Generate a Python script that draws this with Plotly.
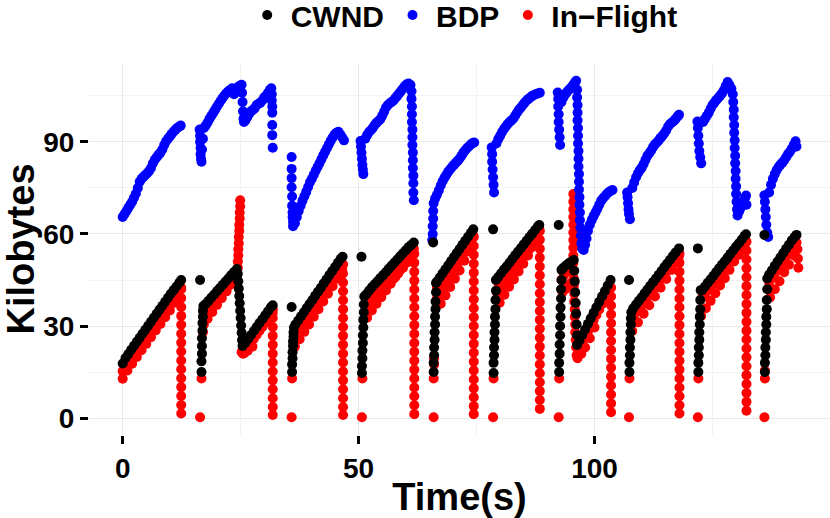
import plotly.graph_objects as go

# CWND (kilobytes) sampled over time (s)
cwnd_t = [
    0.0, 0.6, 1.2, 1.8, 2.4, 3.0, 3.6, 4.2, 4.8, 5.4, 6.0, 6.6, 7.2, 7.8, 8.4, 9.0, 9.6, 10.2, 10.8, 11.4, 12.0, 12.4,
    16.4, 16.7, 16.7, 16.8, 16.8, 16.8, 16.9, 16.9, 17.0, 17.0, 17.1,
    17.6, 18.2, 18.8, 19.4, 20.0, 20.6, 21.2, 21.8, 22.4, 23.0, 23.6, 24.2,
    24.4, 24.5, 24.6, 24.7, 24.8, 24.9, 25.0, 25.1, 25.2, 25.3, 25.4,
    26.0, 26.6, 27.2, 27.8, 28.4, 29.0, 29.6, 30.2, 30.8, 31.4, 31.8,
    35.8, 35.9, 35.9, 36.0, 36.0, 36.1, 36.1, 36.2, 36.2, 36.3,
    36.6, 37.2, 37.8, 38.4, 39.0, 39.6, 40.2, 40.8, 41.4, 42.0, 42.6, 43.2, 43.8, 44.4, 45.0, 45.6, 46.2, 46.6,
    50.6, 50.7, 50.7, 50.8, 50.8, 50.9, 50.9, 51.0, 51.0, 51.1, 51.1, 51.2,
    51.6, 52.2, 52.8, 53.4, 54.0, 54.6, 55.2, 55.8, 56.4, 57.0, 57.6, 58.2, 58.8, 59.4, 60.0, 60.6, 61.2, 61.7,
    65.8, 65.9, 65.9, 66.0, 66.0, 66.1, 66.1, 66.2, 66.2, 66.3, 66.3, 66.4, 66.4,
    66.6, 67.2, 67.8, 68.4, 69.0, 69.6, 70.2, 70.8, 71.4, 72.0, 72.6, 73.2, 73.8, 74.3,
    78.5, 78.6, 78.6, 78.7, 78.7, 78.8, 78.8, 78.9, 78.9, 79.0, 79.0, 79.1, 79.1,
    79.6, 80.2, 80.8, 81.4, 82.0, 82.6, 83.2, 83.8, 84.4, 85.0, 85.6, 86.2, 86.8, 87.4, 88.0, 88.3,
    92.4, 92.5, 92.5, 92.6, 92.6, 92.7, 92.7, 92.8, 92.8, 92.9, 92.9, 93.0, 93.0,
    93.4, 94.0, 94.6, 95.2, 95.6, 95.7, 95.8, 95.9, 96.0, 96.1, 96.2, 96.3, 96.3,
    96.8, 97.4, 98.0, 98.6, 99.2, 99.8, 100.4, 101.0, 101.6, 102.2, 102.8, 103.4,
    107.3, 107.4, 107.4, 107.5, 107.5, 107.6, 107.6, 107.7, 107.7, 107.8,
    108.2, 108.8, 109.4, 110.0, 110.6, 111.2, 111.8, 112.4, 113.0, 113.6, 114.2, 114.8, 115.4, 116.0, 116.6, 117.2, 117.9,
    121.9, 122.0, 122.0, 122.1, 122.1, 122.2, 122.2, 122.3, 122.3, 122.4, 122.4, 122.5,
    122.8, 123.4, 124.0, 124.6, 125.2, 125.8, 126.4, 127.0, 127.6, 128.2, 128.8, 129.4, 130.0, 130.6, 131.2, 131.8, 132.1,
    136.0, 136.1, 136.1, 136.2, 136.2, 136.3, 136.3, 136.4, 136.4, 136.5, 136.5, 136.6, 136.6,
    137.0, 137.6, 138.2, 138.8, 139.4, 140.0, 140.6, 141.2, 141.8, 142.4, 142.8,
]
cwnd_kb = [
    17.8, 19.6, 20.9, 22.3, 23.6, 24.9, 26.2, 27.5, 28.8, 30.1, 31.4, 32.7, 34.0, 35.3, 36.6, 37.9, 39.2, 40.5, 41.7, 42.9, 44.1, 45.0,
    45.0, 15.0, 18.5, 21.0, 23.5, 26.0, 28.5, 31.0, 33.0, 35.0, 36.5,
    37.2, 38.2, 39.3, 40.3, 41.4, 42.4, 43.4, 44.5, 45.5, 46.6, 47.6, 48.6,
    47.0, 44.6, 42.2, 39.8, 37.4, 35.0, 32.6, 30.2, 27.8, 25.4, 23.5,
    24.6, 25.8, 27.1, 28.4, 29.7, 31.0, 32.2, 33.5, 34.8, 36.1, 36.8,
    36.2, 15.0, 17.5, 19.5, 21.5, 23.5, 25.0, 26.5, 28.0, 29.5,
    30.5, 31.8, 33.2, 34.5, 35.9, 37.2, 38.5, 39.9, 41.2, 42.5, 43.9, 45.2, 46.6, 47.9, 49.2, 50.6, 51.9, 52.6,
    52.6, 14.7, 17.0, 19.5, 22.0, 24.5, 27.0, 29.5, 32.0, 34.5, 37.0, 39.6,
    40.3, 41.5, 42.6, 43.6, 44.6, 45.6, 46.6, 47.6, 48.7, 49.7, 50.7, 51.7, 52.7, 53.7, 54.7, 55.7, 56.5, 57.2,
    57.2, 15.0, 18.0, 20.5, 23.0, 25.5, 28.0, 30.5, 33.0, 35.5, 38.0, 41.0, 44.0,
    44.5, 45.8, 47.2, 48.5, 49.8, 51.2, 52.5, 53.8, 55.1, 56.5, 57.8, 59.1, 60.4, 61.5,
    61.5, 14.7, 18.0, 20.5, 23.0, 25.5, 28.0, 30.5, 33.0, 35.5, 38.5, 41.5, 45.0,
    46.0, 47.2, 48.4, 49.5, 50.7, 51.9, 53.1, 54.3, 55.4, 56.6, 57.8, 59.0, 60.1, 61.3, 62.5, 62.9,
    62.9, 15.0, 18.0, 21.0, 24.0, 27.0, 30.0, 33.0, 36.0, 39.0, 42.0, 45.0, 48.3,
    49.0, 49.8, 50.5, 51.1, 51.5, 48.0, 44.5, 41.0, 37.5, 34.0, 30.5, 27.0, 23.8,
    25.3, 27.1, 28.9, 30.7, 32.5, 34.3, 36.1, 37.9, 39.7, 41.4, 43.2, 45.0,
    45.0, 15.0, 18.0, 20.5, 23.0, 25.5, 28.0, 30.5, 32.5, 34.5,
    35.8, 37.0, 38.2, 39.4, 40.7, 41.9, 43.1, 44.3, 45.5, 46.7, 47.9, 49.2, 50.4, 51.6, 52.8, 54.0, 55.3,
    55.3, 15.0, 18.0, 20.5, 23.0, 25.5, 28.0, 30.5, 33.0, 35.5, 38.5, 41.7,
    41.7, 42.9, 44.1, 45.2, 46.4, 47.6, 48.8, 50.0, 51.1, 52.3, 53.5, 54.7, 55.9, 57.0, 58.2, 59.4, 59.9,
    59.7, 15.0, 18.0, 20.5, 23.0, 25.5, 28.0, 30.5, 33.0, 35.5, 38.5, 42.0, 45.5,
    46.8, 48.2, 49.6, 51.0, 52.4, 53.8, 55.2, 56.5, 57.9, 59.0, 59.7,
]

# BDP (kilobytes)
bdp_t = [
    0.0, 0.4, 0.8, 1.2, 1.6, 2.0, 2.4, 2.8, 3.2, 3.6, 4.0, 4.4, 4.8, 5.2, 5.6, 6.0, 6.4, 6.8, 7.2, 7.6, 8.0, 8.4, 8.8, 9.2, 9.6, 10.0, 10.4, 10.8, 11.2, 11.6, 12.0, 12.3,
    16.3, 16.4, 16.4, 16.5, 16.5, 16.6, 16.7,
    16.8, 17.0, 17.2, 17.6, 18.0, 18.4, 18.8, 19.2, 19.6, 20.0, 20.4, 20.8, 21.2, 21.6, 22.0, 22.4, 22.8, 23.2, 23.6, 24.0, 24.4, 24.8, 25.2,
    25.3, 25.4, 25.5, 25.6, 25.7,
    26.0, 26.4, 26.8, 27.2, 27.6, 28.0, 28.4, 28.8, 29.2, 29.6, 30.0, 30.4, 30.8, 31.2, 31.5,
    31.6, 31.6, 31.7, 31.7, 31.7, 31.7, 31.8,
    35.8, 35.8, 35.8, 35.8, 35.9, 35.9, 36.0, 36.0, 36.1, 36.1,
    36.5, 36.9, 37.3, 37.7, 38.1, 38.5, 38.9, 39.3, 39.7, 40.1, 40.5, 40.9, 41.3, 41.7, 42.1, 42.5, 42.9, 43.3, 43.7, 44.1, 44.5, 44.9, 45.3, 45.7, 46.1, 46.5, 46.9,
    50.4, 50.5, 50.6, 50.7, 50.8, 50.9, 51.0,
    51.4, 51.8, 52.2, 52.6, 53.0, 53.4, 53.8, 54.2, 54.6, 55.0, 55.4, 55.8, 56.2, 56.6, 57.0, 57.4, 57.8, 58.2, 58.6, 59.0, 59.4, 59.8, 60.2, 60.6, 61.0,
    61.2, 61.2, 61.3, 61.3, 61.3, 61.4, 61.4, 61.4, 61.5, 61.5, 61.5, 61.6, 61.6, 61.6, 61.7,
    65.6, 65.7, 65.7, 65.8, 65.8, 65.9,
    66.2, 66.6, 67.0, 67.4, 67.8, 68.2, 68.6, 69.0, 69.4, 69.8, 70.2, 70.6, 71.0, 71.4, 71.8, 72.2, 72.6, 73.0, 73.4, 73.8, 74.2, 74.5,
    78.2, 78.3, 78.3, 78.4, 78.5, 78.6, 78.7,
    79.2, 79.6, 80.0, 80.4, 80.8, 81.2, 81.6, 82.0, 82.4, 82.8, 83.2, 83.6, 84.0, 84.4, 84.8, 85.2, 85.6, 86.0, 86.4, 86.8, 87.2, 87.6, 88.0, 88.4,
    92.2, 92.3, 92.3, 92.4, 92.4, 92.5, 92.6, 92.7,
    93.0, 93.4, 93.8, 94.2, 94.6, 95.0, 95.4, 95.8, 96.1,
    96.3, 96.3, 96.4, 96.4, 96.4, 96.5, 96.5, 96.5, 96.6, 96.6, 96.6, 96.7, 96.7, 96.7, 96.8, 96.8, 96.9, 96.9, 97.0, 97.1, 97.2, 97.4, 97.7,
    98.0, 98.3, 98.6, 99.0, 99.4, 99.8, 100.2, 100.6, 101.0, 101.4, 101.8, 102.2, 102.6, 103.0, 103.4, 103.8,
    106.9, 107.0, 107.1, 107.2, 107.3, 107.5,
    108.0, 108.4, 108.8, 109.2, 109.6, 110.0, 110.4, 110.8, 111.2, 111.6, 112.0, 112.4, 112.8, 113.2, 113.6, 114.0, 114.4, 114.8, 115.2, 115.6, 116.0, 116.4, 116.8, 117.2, 117.6, 117.9,
    121.8, 121.9, 122.0, 122.1, 122.2, 122.4, 122.6,
    123.0, 123.4, 123.8, 124.2, 124.6, 125.0, 125.4, 125.8, 126.2, 126.6, 127.0, 127.4, 127.8, 128.2, 128.6, 129.0,
    129.3, 129.4, 129.5, 129.5, 129.6, 129.6, 129.7, 129.7, 129.8, 129.8, 129.9, 129.9, 130.0, 130.0, 130.1, 130.2, 130.3,
    130.7, 131.1, 131.5, 131.9, 132.1, 132.2,
    136.0, 136.1, 136.2, 136.3, 136.4, 136.6, 136.8,
    137.0, 137.4, 137.8, 138.2, 138.6, 139.0, 139.4, 139.8, 140.2, 140.6, 141.0, 141.4, 141.8, 142.2, 142.6, 142.8,
]
bdp_kb = [
    65.5, 66.5, 67.5, 68.5, 69.5, 70.5, 71.8, 73.2, 75.0, 77.0, 78.0, 78.6, 79.2, 79.8, 80.5, 81.5, 83.0, 84.2, 85.0, 85.8, 86.5, 87.5, 89.0, 90.2, 91.0, 91.8, 92.6, 93.4, 94.0, 94.6, 95.0, 95.3,
    94.0, 92.0, 90.0, 88.0, 86.0, 84.5, 83.5,
    87.5, 91.0, 94.5, 95.3, 96.3, 97.5, 98.5, 99.5, 100.5, 101.5, 102.5, 103.5, 104.4, 105.2, 105.9, 106.5, 107.0, 107.5, 105.5, 106.8, 107.8, 108.3, 108.6,
    106.0, 103.0, 100.0, 97.5, 96.5,
    97.0, 98.0, 99.2, 100.0, 100.4, 101.0, 102.0, 102.4, 102.8, 103.5, 104.5, 105.0, 106.0, 107.0, 107.5,
    105.5, 103.5, 101.5, 99.5, 95.5, 92.2, 88.1,
    85.1, 81.2, 78.2, 75.2, 72.2, 69.2, 67.0, 65.5, 64.0, 62.5,
    63.5, 65.5, 67.5, 69.2, 70.8, 72.3, 73.7, 75.3, 76.9, 78.0, 79.3, 80.6, 81.8, 83.0, 84.3, 85.6, 86.8, 88.0, 89.2, 90.4, 91.4, 92.4, 93.0, 93.3, 92.5, 91.5, 90.5,
    90.3, 88.5, 86.5, 84.5, 82.5, 81.0, 79.5,
    91.0, 92.2, 93.2, 93.8, 94.5, 95.5, 96.2, 96.8, 97.4, 98.5, 99.8, 101.2, 102.0, 102.6, 103.0, 103.5, 104.3, 105.0, 105.8, 106.6, 107.4, 108.2, 108.8, 109.0, 108.5,
    106.5, 104.0, 101.5, 99.0, 96.5, 94.0, 91.5, 89.0, 86.5, 84.0, 81.5, 79.0, 76.5, 73.5, 71.0,
    58.0, 60.0, 62.5, 65.0, 67.5, 70.0,
    71.5, 72.8, 74.2, 75.8, 77.2, 78.3, 79.3, 80.3, 81.1, 81.8, 82.5, 83.2, 83.8, 84.6, 85.5, 86.5, 87.3, 88.0, 88.6, 89.2, 89.6, 89.8,
    88.2, 86.0, 83.5, 81.0, 78.5, 76.0, 73.5,
    89.5, 90.9, 92.0, 93.2, 94.2, 95.0, 95.8, 96.5, 97.0, 97.6, 98.6, 99.6, 100.5, 101.2, 102.0, 102.8, 103.5, 104.0, 104.5, 105.0, 105.3, 105.6, 105.8, 106.0,
    106.1, 104.0, 101.5, 99.0, 96.5, 94.0, 91.5, 89.0,
    103.0, 104.5, 105.5, 106.3, 107.0, 107.6, 108.4, 109.3, 109.9,
    107.0, 104.5, 102.0, 99.5, 97.0, 94.5, 92.0, 89.5, 87.0, 84.5, 82.0, 79.5, 77.0, 74.5, 72.0, 69.5, 67.0, 64.5, 62.0, 59.5, 57.0, 55.2, 54.8,
    56.5, 58.5, 61.0, 63.0, 64.5, 65.8, 67.0, 68.2, 69.5, 70.8, 71.6, 72.3, 73.0, 73.6, 74.0, 74.3,
    73.5, 72.0, 70.0, 68.0, 66.5, 64.8,
    75.0, 76.8, 78.5, 79.8, 80.8, 81.6, 82.8, 84.2, 85.5, 86.3, 87.2, 88.3, 89.2, 89.8, 90.5, 91.3, 92.0, 92.8, 93.8, 95.0, 95.8, 96.3, 96.8, 97.5, 98.3, 98.8,
    96.6, 94.5, 92.0, 89.5, 87.0, 85.0, 83.0,
    96.5, 97.5, 98.5, 99.5, 100.8, 102.0, 102.8, 103.6, 104.3, 105.0, 105.8, 106.8, 108.2, 109.5, 108.5, 107.3,
    105.5, 103.0, 100.5, 98.0, 95.5, 93.0, 90.5, 88.0, 85.5, 83.0, 80.5, 78.0, 75.5, 73.0, 70.5, 68.0, 66.0,
    67.5, 68.8, 70.3, 71.8, 72.5, 69.5,
    72.6, 70.5, 68.0, 65.5, 63.0, 60.5, 59.0,
    73.5, 76.0, 78.0, 79.5, 80.8, 81.8, 82.6, 83.2, 84.0, 85.0, 86.0, 86.8, 87.8, 89.0, 90.2, 88.5,
]

# In-Flight (kilobytes)
inflight_t = [
    0.0, 0.6, 1.2, 1.8, 2.4, 3.0, 3.6, 4.2, 4.8, 5.4, 6.0, 6.6, 7.2, 7.8, 8.4, 9.0, 9.6, 10.2, 10.8, 11.4, 12.0, 12.4,
    0.0, 1.0, 2.0, 3.0, 4.0, 5.0, 6.0, 7.0, 8.0, 9.0, 10.0, 11.0,
    12.4, 12.4, 12.4, 12.4, 12.4, 12.4, 12.4, 12.4, 12.4, 12.4, 12.4, 12.4, 12.4, 12.4, 12.4,
    16.4, 16.7, 17.0, 17.1,
    17.6, 18.2, 18.8, 19.4, 20.0, 20.6, 21.2, 21.8, 22.4, 23.0, 23.6, 24.2,
    17.2, 18.0, 19.0, 20.0, 21.0, 22.0, 23.0, 24.0,
    24.4, 24.4, 24.5, 24.5, 24.6, 24.6, 24.7, 24.7, 24.8, 24.8, 24.9, 24.9,
    25.2, 25.5, 25.8,
    26.0, 26.6, 27.2, 27.8, 28.4, 29.0, 29.6, 30.2, 30.8, 31.4, 31.8,
    26.5, 27.5,
    31.8, 31.8, 31.8, 31.8, 31.8, 31.8, 31.8, 31.8, 31.8, 31.8, 31.8, 31.8, 31.8,
    35.8, 35.9,
    36.6, 37.2, 37.8, 38.4, 39.0, 39.6, 40.2, 40.8, 41.4, 42.0, 42.6, 43.2, 43.8, 44.4, 45.0, 45.6, 46.2, 46.6,
    36.5, 37.5, 38.5, 39.5, 40.5, 41.5, 42.5, 43.5, 44.5, 45.5, 46.5,
    46.7, 46.7, 46.7, 46.7, 46.7, 46.7, 46.7, 46.7, 46.7, 46.7, 46.7, 46.7, 46.7, 46.7, 46.7, 46.7, 46.7, 46.7,
    50.7, 50.8,
    51.6, 52.2, 52.8, 53.4, 54.0, 54.6, 55.2, 55.8, 56.4, 57.0, 57.6, 58.2, 58.8, 59.4, 60.0, 60.6, 61.2, 61.7,
    51.4, 52.4, 53.4, 54.4, 55.4, 56.4, 57.4, 58.4, 59.4, 60.4, 61.4,
    51.8, 52.8, 53.8, 54.8, 55.8, 56.8, 57.8, 58.8, 59.8, 60.8,
    61.8, 61.8, 61.8, 61.8, 61.8, 61.8, 61.8, 61.8, 61.8, 61.8, 61.8, 61.8, 61.8, 61.8, 61.8, 61.8, 61.8, 61.8, 61.8,
    65.9, 65.9, 66.0, 66.0, 66.6,
    66.6, 67.2, 67.8, 68.4, 69.0, 69.6, 70.2, 70.8, 71.4, 72.0, 72.6, 73.2, 73.8, 74.3,
    66.9, 67.9, 68.9, 69.9, 70.9, 71.9, 72.9, 73.9,
    67.4, 68.4, 69.4, 70.4, 71.4, 72.4, 73.4,
    74.4, 74.4, 74.4, 74.4, 74.4, 74.4, 74.4, 74.4, 74.4, 74.4, 74.4, 74.4, 74.4, 74.4, 74.4, 74.4, 74.4, 74.4, 74.4, 74.4, 74.4,
    78.5, 78.6,
    79.6, 80.2, 80.8, 81.4, 82.0, 82.6, 83.2, 83.8, 84.4, 85.0, 85.6, 86.2, 86.8, 87.4, 88.0, 88.3,
    79.4, 80.4, 81.4, 82.4, 83.4, 84.4, 85.4, 86.4, 87.4,
    79.9, 80.9, 81.9, 82.9, 83.9, 84.9, 85.9, 86.9,
    88.4, 88.4, 88.4, 88.4, 88.4, 88.4, 88.4, 88.4, 88.4, 88.4, 88.4, 88.4, 88.4, 88.4, 88.4, 88.4, 88.4, 88.4, 88.4, 88.4, 88.4,
    92.4, 92.5,
    93.0, 93.5, 94.0, 94.5, 95.0,
    93.2, 93.8, 94.4, 95.0,
    95.5, 95.5, 95.5, 95.5, 95.5, 95.5, 95.5, 95.5, 95.5,
    95.5, 95.5, 95.6, 95.6, 95.7, 95.7, 95.8, 95.8, 95.9, 95.9, 96.0, 96.1, 96.2,
    96.8, 97.4, 98.0, 98.6, 99.2, 99.8, 100.4, 101.0, 101.6, 102.2, 102.8, 103.4,
    96.4, 97.2, 98.0, 99.0, 100.0,
    103.5, 103.5, 103.5, 103.5, 103.5, 103.5, 103.5, 103.5, 103.5, 103.5, 103.5, 103.5, 103.5, 103.5, 103.5,
    107.3, 107.4,
    108.2, 108.8, 109.4, 110.0, 110.6, 111.2, 111.8, 112.4, 113.0, 113.6, 114.2, 114.8, 115.4, 116.0, 116.6, 117.2, 117.9,
    108.0, 109.2, 110.4, 111.6, 112.8, 114.0, 115.2, 116.4, 117.6,
    118.0, 118.0, 118.0, 118.0, 118.0, 118.0, 118.0, 118.0, 118.0, 118.0, 118.0, 118.0, 118.0, 118.0, 118.0, 118.0, 118.0, 118.0, 118.0,
    121.9, 122.0,
    122.8, 123.4, 124.0, 124.6, 125.2, 125.8, 126.4, 127.0, 127.6, 128.2, 128.8, 129.4, 130.0, 130.6, 131.2, 131.8, 132.1,
    122.6, 123.6, 124.6, 125.6, 126.6, 127.6, 128.6, 129.6, 130.6, 131.6,
    132.2, 132.2, 132.2, 132.2, 132.2, 132.2, 132.2, 132.2, 132.2, 132.2, 132.2, 132.2, 132.2, 132.2, 132.2, 132.2, 132.2, 132.2, 132.2, 132.2,
    136.0, 136.1, 136.1,
    137.0, 137.6, 138.2, 138.8, 139.4, 140.0, 140.6, 141.2, 141.8, 142.4, 142.8,
    137.2, 138.2, 139.2, 140.2, 141.2, 142.2,
    143.0, 143.1, 143.2,
]
inflight_kb = [
    15.3, 17.1, 18.4, 19.8, 21.1, 22.4, 23.7, 25.0, 26.3, 27.6, 28.9, 30.2, 31.5, 32.8, 34.1, 35.4, 36.7, 38.0, 39.2, 40.4, 41.6, 42.5,
    12.8, 15.5, 17.7, 19.9, 22.1, 24.2, 26.4, 28.6, 30.7, 32.9, 35.1, 37.6,
    42.0, 39.1, 36.2, 33.3, 30.4, 27.5, 24.6, 21.7, 18.8, 15.9, 13.0, 10.1, 7.2, 4.3, 1.5,
    0.3, 12.9, 28.0, 31.0,
    34.7, 35.7, 36.8, 37.8, 38.9, 39.9, 40.9, 42.0, 43.0, 44.1, 45.1, 46.1,
    30.5, 32.4, 34.6, 36.9, 39.1, 41.3, 43.6, 45.3,
    49.0, 51.0, 53.0, 55.0, 57.0, 59.0, 61.0, 63.0, 65.0, 67.0, 69.0, 71.0,
    21.5, 21.0, 21.2,
    22.1, 23.3, 24.6, 25.9, 27.2, 28.5, 29.7, 31.0, 32.3, 33.6, 34.3,
    22.0, 23.3,
    35.5, 32.6, 29.7, 26.8, 23.9, 21.0, 18.1, 15.2, 12.3, 9.4, 6.5, 3.6, 1.0,
    0.3, 12.9,
    28.0, 29.3, 30.7, 32.0, 33.4, 34.7, 36.0, 37.4, 38.7, 40.0, 41.4, 42.7, 44.1, 45.4, 46.7, 48.1, 49.4, 50.1,
    23.3, 25.7, 28.1, 30.5, 33.0, 35.5, 38.0, 40.5, 43.0, 45.5, 48.5,
    50.0, 47.1, 44.2, 41.3, 38.4, 35.5, 32.6, 29.7, 26.8, 23.9, 21.0, 18.1, 15.2, 12.3, 9.4, 6.5, 3.6, 1.0,
    0.3, 12.9,
    38.3, 39.5, 40.6, 41.6, 42.6, 43.6, 44.6, 45.6, 46.7, 47.7, 48.7, 49.7, 50.7, 51.7, 52.7, 53.7, 54.5, 55.2,
    34.4, 36.4, 38.2, 40.0, 41.7, 43.6, 45.4, 47.1, 48.9, 50.8, 53.3,
    32.7, 35.1, 37.3, 39.4, 41.6, 43.8, 46.0, 48.2, 50.3, 52.0,
    53.5, 50.6, 47.7, 44.8, 41.9, 39.0, 36.1, 33.2, 30.3, 27.4, 24.5, 21.6, 18.7, 15.8, 12.9, 10.0, 7.1, 4.2, 1.3,
    0.3, 12.9, 17.5, 19.5, 39.0,
    42.5, 43.8, 45.2, 46.5, 47.8, 49.2, 50.5, 51.8, 53.1, 54.5, 55.8, 57.1, 58.4, 59.5,
    40.2, 42.5, 44.8, 47.1, 49.4, 51.8, 54.2, 57.1,
    37.3, 40.0, 42.7, 45.4, 48.1, 51.3, 55.0,
    59.0, 56.1, 53.2, 50.3, 47.4, 44.5, 41.6, 38.7, 35.8, 32.9, 30.0, 27.1, 24.2, 21.3, 18.4, 15.5, 12.6, 9.7, 6.8, 3.9, 1.3,
    0.3, 12.9,
    44.0, 45.2, 46.4, 47.5, 48.7, 49.9, 51.1, 52.3, 53.4, 54.6, 55.8, 57.0, 58.1, 59.3, 60.5, 60.9,
    40.6, 42.7, 44.8, 46.8, 48.9, 51.0, 53.1, 55.3, 57.8,
    37.6, 40.2, 42.8, 45.2, 47.8, 50.3, 53.0, 55.9,
    61.0, 58.1, 55.2, 52.3, 49.4, 46.5, 43.6, 40.7, 37.8, 34.9, 32.0, 29.1, 26.2, 23.3, 20.4, 17.5, 14.6, 11.7, 8.8, 5.9, 3.0,
    0.3, 12.9,
    45.0, 46.5, 47.5, 48.0, 48.5,
    41.0, 42.0, 43.0, 44.0,
    73.0, 70.5, 68.0, 65.5, 63.0, 60.5, 58.0, 55.5, 53.0,
    50.5, 48.0, 45.5, 43.0, 40.5, 38.0, 35.5, 33.0, 30.5, 28.0, 25.5, 23.0, 20.5,
    22.8, 24.6, 26.4, 28.2, 30.0, 31.8, 33.6, 35.4, 37.2, 38.9, 40.7, 42.5,
    19.5, 21.0, 23.0, 26.0, 29.5,
    42.5, 39.6, 36.7, 33.8, 30.9, 28.0, 25.1, 22.2, 19.3, 16.4, 13.5, 10.6, 7.7, 4.8, 1.9,
    0.3, 12.9,
    33.3, 34.5, 35.7, 36.9, 38.2, 39.4, 40.6, 41.8, 43.0, 44.2, 45.4, 46.7, 47.9, 49.1, 50.3, 51.5, 52.8,
    28.4, 31.2, 34.0, 36.8, 39.6, 42.5, 45.3, 48.3, 51.1,
    53.5, 50.6, 47.7, 44.8, 41.9, 39.0, 36.1, 33.2, 30.3, 27.4, 24.5, 21.6, 18.7, 15.8, 12.9, 10.0, 7.1, 4.2, 1.5,
    0.3, 12.9,
    39.2, 40.4, 41.6, 42.7, 43.9, 45.1, 46.3, 47.5, 48.6, 49.8, 51.0, 52.2, 53.4, 54.5, 55.7, 56.9, 57.4,
    33.3, 35.8, 38.2, 40.7, 43.2, 45.6, 48.3, 51.0, 53.2, 55.5,
    57.5, 54.6, 51.7, 48.8, 45.9, 43.0, 40.1, 37.2, 34.3, 31.4, 28.5, 25.6, 22.7, 19.8, 16.9, 14.0, 11.1, 8.2, 5.3, 2.4,
    0.3, 12.9, 15.5,
    44.3, 45.7, 47.1, 48.5, 49.9, 51.3, 52.7, 54.0, 55.4, 56.5, 57.2,
    39.3, 42.0, 44.6, 47.5, 50.0, 53.0,
    55.0, 52.0, 49.0,
]

for name, xs, ys in [("cwnd", cwnd_t, cwnd_kb), ("bdp", bdp_t, bdp_kb), ("inflight", inflight_t, inflight_kb)]:
    if len(xs) != len(ys):
        raise ValueError(f"{name}: {len(xs)} times vs {len(ys)} values")

FONT = "Liberation Sans, Arial, Helvetica, sans-serif"
DOT = 10

fig = go.Figure()
# drawn bottom to top: In-Flight, BDP, CWND
fig.add_trace(go.Scatter(x=inflight_t, y=inflight_kb, mode="markers", name="In\u2212Flight",
                         marker=dict(color="#ff0000", size=DOT, line=dict(width=0))))
fig.add_trace(go.Scatter(x=bdp_t, y=bdp_kb, mode="markers", name="BDP",
                         marker=dict(color="#0000ff", size=DOT, line=dict(width=0))))
fig.add_trace(go.Scatter(x=cwnd_t, y=cwnd_kb, mode="markers", name="CWND",
                         marker=dict(color="#000000", size=DOT, line=dict(width=0))))

axis_style = dict(
    showgrid=True, gridcolor="#e8e8e8", gridwidth=1.2,
    zeroline=False, showline=False, automargin=False,
    ticks="outside", ticklen=8, tickwidth=2.5, tickcolor="#000000",
    tickfont=dict(family=FONT, size=28, color="#000000", weight="bold"),
)

fig.update_xaxes(
    range=[-7.14, 149.9], tickvals=[0, 50, 100],
    minor=dict(tickvals=[25, 75, 125], showgrid=True, gridcolor="#f3f3f3", gridwidth=1, ticks=""),
    title=dict(text="Time(s)", font=dict(family=FONT, size=38, color="#000000", weight="bold"), standoff=0),
    **axis_style,
)
fig.update_yaxes(
    range=[-5.5, 115.7], tickvals=[0, 30, 60, 90],
    minor=dict(tickvals=[15, 45, 75, 105], showgrid=True, gridcolor="#f3f3f3", gridwidth=1, ticks=""),
    title=dict(text="Kilobytes", font=dict(family=FONT, size=38, color="#000000", weight="bold"), standoff=0),
    **axis_style,
)

fig.update_layout(
    width=830, height=518,
    margin=dict(l=89, r=0, t=63, b=83),
    paper_bgcolor="white", plot_bgcolor="white",
    showlegend=True,
    legend=dict(orientation="h", traceorder="reversed",
                x=0.505, xanchor="center", yref="container", y=0.971, yanchor="middle",
                font=dict(family=FONT, size=30, color="#000000", weight="bold"),
                itemsizing="trace", itemwidth=37, bgcolor="rgba(0,0,0,0)"),
)

# drop the browser's default body margin so the figure sits at the page corner
fig.write_html("out.html", config={"displayModeBar": False},
               post_script="document.body.style.margin = '0';")
